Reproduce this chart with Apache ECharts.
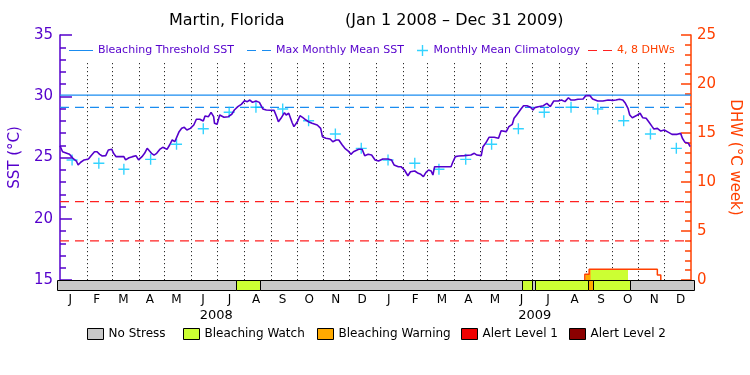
<!DOCTYPE html>
<html>
<head>
<meta charset="utf-8">
<script src="https://cdn.jsdelivr.net/npm/echarts@6/dist/echarts.min.js"></script>
<style>
html, body { margin: 0; padding: 0; background: #fff; }
#chart { width: 750px; height: 375px; }
</style>
</head>
<body>
<div id="chart"></div>
<script>
// daily SST, as day offset from Jan 1 2008
var sstDay = [0, 1, 3, 5, 11, 15, 19, 21, 24, 28, 33, 36, 40, 43, 46, 49, 53, 56, 60, 62, 65, 74, 76, 78, 80, 84, 88, 91, 95, 98, 101, 103, 106, 109, 112, 116, 119, 124,
  127, 130, 133, 135, 138, 141, 144, 147, 151, 155, 158, 162, 166, 168, 172, 175, 178, 179, 182, 185, 187, 190, 195, 199, 202, 206, 210, 214, 217, 220, 223, 227, 231, 235, 239,
  248, 251, 253, 256, 260, 262, 265, 267, 269, 271, 275, 278, 281, 285, 288, 292, 298, 302, 304, 308, 313, 316, 320, 323, 327, 330, 334, 337, 340, 346, 350, 353, 357, 361, 365,
  369, 374, 380, 384, 387, 392, 395, 399, 403, 406, 411, 415, 418, 421, 424, 427, 430, 432, 434, 453, 455, 458, 462, 464, 468, 476, 480, 483,
  488, 490, 493, 497, 503, 508, 511, 517, 520, 524, 526, 529, 531, 534, 537, 541, 545, 548, 550, 554, 560, 564, 568, 572, 577, 581, 585, 589, 592, 596, 600,
  606, 609, 614, 617, 623, 629, 635, 640, 644, 648, 652, 655, 658, 660, 663, 665, 669, 672, 675, 679, 682, 686, 688, 692, 696, 700, 705, 709, 715, 719, 721, 724, 728, 730];
var sstVal = [25.96, 25.88, 25.47, 25.34, 25.26, 24.93, 24.71, 24.39, 24.61, 24.80, 24.88, 25.15, 25.47, 25.47, 25.26, 25.12, 25.15, 25.61, 25.67, 25.34, 25.07, 25.07, 24.80, 24.66, 24.98, 25.07, 25.15, 24.80, 25.07, 25.34, 25.75, 25.88, 25.34, 25.20, 25.34, 25.69, 25.83, 25.67,
  26.02, 26.43, 26.29, 26.16, 27.11, 27.38, 27.46, 27.24, 27.38, 27.65, 28.12, 28.12, 27.98, 28.39, 28.33, 28.69, 28.33, 27.79, 27.71, 28.47, 28.61, 28.28, 28.33, 28.53, 28.88, 29.15, 29.34, 29.64, 29.56, 29.69, 29.50, 29.61, 29.50, 28.96, 28.88,
  28.85, 28.33, 27.92, 28.20, 28.66, 28.47, 28.61, 28.47, 27.84, 27.52, 27.92, 28.41, 28.28, 28.06, 27.92, 27.79, 27.65, 27.38, 26.70, 26.57, 26.51, 26.29, 26.43, 26.43, 26.02, 25.75, 25.53, 25.26, 25.47, 25.67, 25.67, 25.15, 25.26, 25.20, 24.80,
  24.71, 24.88, 24.88, 24.80, 24.39, 24.25, 24.25, 23.98, 23.51, 23.84, 23.90, 23.71, 23.63, 23.44, 23.79, 23.98, 23.90, 23.57, 24.25, 24.25, 24.61, 25.07, 25.12, 24.98, 25.15, 25.20, 25.34, 25.20,
  25.15, 25.88, 26.16, 26.65, 26.65, 26.57, 27.19, 27.11, 27.52, 27.71, 28.20, 28.47, 28.61, 28.96, 29.23, 29.23, 29.10, 28.88, 29.07, 29.15, 29.23, 29.42, 29.15, 29.61, 29.61, 29.69, 29.56, 29.88, 29.69, 29.69, 29.75,
  29.78, 30.05, 30.05, 29.78, 29.61, 29.61, 29.69, 29.66, 29.69, 29.75, 29.69, 29.42, 29.01, 28.47, 28.25, 28.20, 28.47, 28.61, 28.25, 28.20, 27.92, 27.52, 27.33, 27.38, 27.16, 27.24, 27.05, 26.89, 26.89, 26.97, 26.57, 26.24, 26.16, 25.88];

// monthly mean climatology, Jan..Dec (plotted on the 15th of each month)
var monthLetters = ['J', 'F', 'M', 'A', 'M', 'J', 'J', 'A', 'S', 'O', 'N', 'D'];
var climVal = [24.80, 24.53, 24.04, 24.85, 26.08, 27.35, 28.69, 29.10, 28.96, 28.00, 26.92, 25.75];
var years = ['2008', '2009'];

var mmm = 29.1;
var bleachThreshold = 30.1;
var dhwLevels = [4, 8];

// degree heating weeks (step values starting at each day)
var dhwDay = [608, 608, 613, 692, 696];
var dhwVal = [0, 0.58, 1.09, 0.51, 0];

// stress level periods
var stressStart = [0, 205, 233, 534, 545, 549, 609, 615, 658];
var stressEnd = [205, 233, 534, 545, 549, 609, 615, 658, 731];
var stressLevel = [0, 1, 0, 1, 0, 1, 2, 1, 0];
var stressNames = ['No Stress', 'Bleaching Watch', 'Bleaching Warning', 'Alert Level 1', 'Alert Level 2'];
var stressColors = ['#c8c8c8', '#ccff33', '#ffaa00', '#ee0000', '#8b0000'];

var purple = '#5500cc', blue = '#1a8cf0', cyan = '#00c8ff', orange = '#ff4000', red = '#ff2020';
var font = 'DejaVu Sans';
var nDays = 731;
var dotTop = 32.7;
var crossPath = 'path://M5.25,0H6.75V5.25H12V6.75H6.75V12H5.25V6.75H0V5.25H5.25Z';
var solidIcon = 'path://M0,0H24V1H0Z';
var dashIcon = 'path://M0,0H9V1H0ZM15,0H24V1H15Z';

function dayOf(y, m, d) {
  return Math.round((Date.UTC(y, m, d) - Date.UTC(2008, 0, 1)) / 86400000);
}

var monthEdges = [];
for (var k = 1; k < 24; k++) monthEdges.push([dayOf(2008, k, 1)]);
var climPts = [];
for (k = 0; k < 24; k++) climPts.push([dayOf(2008, k, 15), climVal[k % 12]]);
var monthCats = monthLetters.concat(monthLetters);

var sstData = sstDay.map(function (d, i) { return [d, sstVal[i]]; });
var dhwData = dhwDay.map(function (d, i) { return [d, dhwVal[i]]; });

function flat(v) { return [[0, v], [nDays, v]]; }

function dhwAt(d) {
  var v = 0;
  for (var i = 0; i < dhwDay.length; i++) if (dhwDay[i] <= d) v = dhwVal[i];
  return v;
}

var fillSegs = [];
for (var i = 0; i < stressStart.length; i++) {
  if (stressLevel[i] > 0) fillSegs.push([stressStart[i], stressEnd[i], stressLevel[i]]);
}

var series = [
  {
    type: 'custom', name: 'months', xAxisIndex: 0, yAxisIndex: 0, silent: true, z: 1,
    data: monthEdges, encode: { x: 0 },
    renderItem: function (params, api) {
      var p0 = api.coord([api.value(0), dotTop]);
      var p1 = api.coord([api.value(0), 15]);
      var x = Math.round(p0[0]) + 0.5;
      return { type: 'line', shape: { x1: x, y1: p0[1], x2: x, y2: p1[1] },
        style: { stroke: '#000', lineWidth: 1, lineDash: [1, 3] } };
    }
  },
  {
    type: 'custom', name: 'dhwFill', xAxisIndex: 0, yAxisIndex: 1, silent: true, z: 2,
    data: fillSegs, encode: { x: [0, 1] },
    renderItem: function (params, api) {
      var s = api.value(0), e = api.value(1), lvl = api.value(2);
      var pts = [[s, 0], [s, dhwAt(s)]];
      for (var j = 0; j < dhwDay.length; j++) {
        if (dhwDay[j] > s && dhwDay[j] < e) {
          pts.push([dhwDay[j], dhwAt(dhwDay[j] - 0.001)]);
          pts.push([dhwDay[j], dhwAt(dhwDay[j])]);
        }
      }
      pts.push([e, dhwAt(e - 0.001)]);
      pts.push([e, 0]);
      return { type: 'polygon', shape: { points: pts.map(function (p) { return api.coord(p); }) },
        style: { fill: stressColors[lvl] } };
    }
  },
  {
    type: 'line', name: 'Bleaching Threshold SST', xAxisIndex: 0, yAxisIndex: 0, data: flat(bleachThreshold),
    symbol: 'none', color: blue, lineStyle: { color: blue, width: 1.2 }, z: 3, silent: true
  },
  {
    type: 'line', name: 'Max Monthly Mean SST', xAxisIndex: 0, yAxisIndex: 0, data: flat(mmm),
    symbol: 'none', color: blue, lineStyle: { color: blue, width: 1.2, type: [9, 6] }, z: 3, silent: true
  }
];

dhwLevels.forEach(function (v) {
  series.push({
    type: 'line', name: '4, 8 DHWs', xAxisIndex: 0, yAxisIndex: 1, data: flat(v),
    symbol: 'none', color: red, lineStyle: { color: red, width: 1.2, type: [9, 6] }, z: 3, silent: true
  });
});

series.push(
  {
    type: 'line', name: 'DHW', xAxisIndex: 0, yAxisIndex: 1, data: dhwData, step: 'end',
    symbol: 'none', lineStyle: { color: orange, width: 1.5 }, z: 4, silent: true
  },
  {
    type: 'scatter', name: 'Monthly Mean Climatology', xAxisIndex: 0, yAxisIndex: 0, data: climPts,
    symbol: crossPath, symbolSize: 11, itemStyle: { color: cyan }, z: 5, silent: true
  },
  {
    type: 'line', name: 'SST', xAxisIndex: 0, yAxisIndex: 0, data: sstData,
    symbol: 'none', lineStyle: { color: purple, width: 1.6 }, z: 6, silent: true
  }
);

stressNames.forEach(function (name, lvl) {
  var segs = [];
  for (var i = 0; i < stressStart.length; i++) {
    if (stressLevel[i] === lvl) segs.push([stressStart[i], stressEnd[i]]);
  }
  series.push({
    type: 'custom', name: name, xAxisIndex: 1, yAxisIndex: 2, silent: true, z: 7,
    itemStyle: { color: stressColors[lvl] },
    data: segs, encode: { x: [0, 1] },
    renderItem: function (params, api) {
      var a = api.coord([api.value(0), 1]), b = api.coord([api.value(1), 0]);
      var x0 = Math.round(a[0]) + 0.5, x1 = Math.round(b[0]) + 0.5;
      var y0 = Math.round(a[1]) + 0.5, y1 = Math.round(b[1]) + 0.5;
      return { type: 'rect', shape: { x: x0, y: y0, width: x1 - x0, height: y1 - y0 },
        style: { fill: stressColors[lvl], stroke: '#000', lineWidth: 1 } };
    }
  });
});

var topItems = [
  { name: 'Bleaching Threshold SST', left: 69, w: 24, h: 1.5, icon: solidIcon, color: purple },
  { name: 'Max Monthly Mean SST', left: 247, w: 24, h: 1.5, icon: dashIcon, color: purple },
  { name: 'Monthly Mean Climatology', left: 417, w: 12, h: 11, icon: crossPath, color: purple },
  { name: '4, 8 DHWs', left: 588, w: 24, h: 1.5, icon: dashIcon, color: orange }
];
var bottomLefts = [87, 183, 317, 461, 569];

var legends = topItems.map(function (it) {
  return {
    data: [{ name: it.name, icon: it.icon }], left: it.left, top: 45, padding: 0, itemGap: 0, selectedMode: false,
    itemWidth: it.w, itemHeight: it.h,
    textStyle: { color: it.color, fontSize: 11, fontFamily: font }
  };
}).concat(stressNames.map(function (name, i) {
  return {
    data: [name], left: bottomLefts[i], top: 328, padding: 0, itemGap: 0, selectedMode: false,
    icon: 'rect', itemWidth: 16, itemHeight: 11,
    itemStyle: { borderColor: '#000', borderWidth: 1 },
    textStyle: { color: '#000', fontSize: 12, fontFamily: font }
  };
}));

var option = {
  animation: false,
  backgroundColor: '#fff',
  title: [
    { text: 'Martin, Florida', left: 169, top: 13, padding: 0,
      textStyle: { fontSize: 16, fontWeight: 'normal', color: '#000', fontFamily: font } },
    { text: '(Jan 1 2008 \u2013 Dec 31 2009)', left: 345, top: 13, padding: 0,
      textStyle: { fontSize: 16, fontWeight: 'normal', color: '#000', fontFamily: font } }
  ],
  legend: legends,
  grid: [
    { left: 57, right: 56, top: 35, height: 245 },
    { left: 57, right: 56, top: 280, height: 10 }
  ],
  xAxis: [
    { gridIndex: 0, type: 'value', min: 0, max: nDays, position: 'top',
      axisLine: { show: true, lineStyle: { color: '#000', width: 1 } },
      axisTick: { show: false }, axisLabel: { show: false }, splitLine: { show: false } },
    { gridIndex: 1, type: 'value', min: 0, max: nDays, show: false },
    { gridIndex: 1, type: 'category', data: monthCats, position: 'bottom',
      axisLine: { show: false }, axisTick: { show: false },
      axisLabel: { color: '#000', fontSize: 12, fontFamily: font, margin: 4, interval: 0 } },
    { gridIndex: 1, type: 'category', data: years, position: 'bottom', offset: 16,
      axisLine: { show: false }, axisTick: { show: false },
      axisLabel: { color: '#000', fontSize: 13, fontFamily: font, margin: 3 } }
  ],
  yAxis: [
    { gridIndex: 0, type: 'value', min: 15, max: 35, interval: 5, position: 'left',
      name: 'SST (\u00b0C)', nameLocation: 'middle', nameGap: 33,
      nameTextStyle: { color: purple, fontSize: 15, fontFamily: font },
      axisLine: { show: true, lineStyle: { color: purple, width: 1.5 } },
      axisTick: { show: true, inside: true, length: 12, lineStyle: { color: purple, width: 1.5 } },
      minorTick: { show: true, splitNumber: 5, length: 6, lineStyle: { color: purple, width: 1.5 } },
      axisLabel: { color: purple, fontSize: 15, fontFamily: font, margin: 7 },
      splitLine: { show: false } },
    { gridIndex: 0, type: 'value', min: 0, max: 25, interval: 5, position: 'right',
      name: 'DHW (\u00b0C week)', nameLocation: 'middle', nameGap: 33, nameRotate: -90,
      nameTextStyle: { color: orange, fontSize: 15, fontFamily: font },
      axisLine: { show: true, lineStyle: { color: orange, width: 1.5 } },
      axisTick: { show: true, inside: true, length: 10, lineStyle: { color: orange, width: 1.5 } },
      minorTick: { show: true, splitNumber: 5, length: 6, lineStyle: { color: orange, width: 1.5 } },
      axisLabel: { color: orange, fontSize: 15, fontFamily: font, margin: 6 },
      splitLine: { show: false } },
    { gridIndex: 1, type: 'value', min: 0, max: 1, show: false }
  ],
  series: series
};

var myChart = echarts.init(document.getElementById('chart'));
myChart.setOption(option);
</script>
</body>
</html>
